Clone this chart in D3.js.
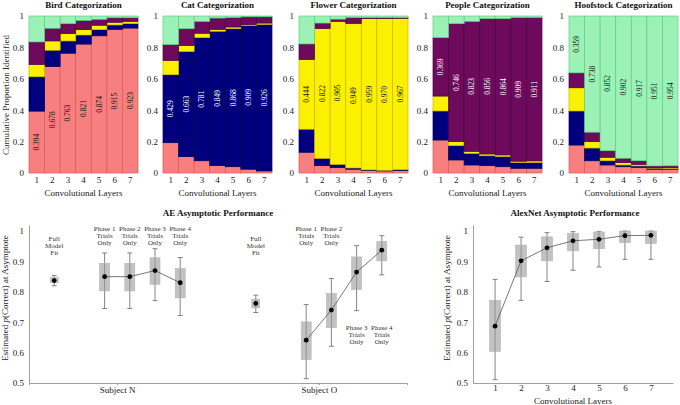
<!DOCTYPE html>
<html><head><meta charset="utf-8">
<script src="https://cdn.jsdelivr.net/npm/d3@7"></script>
<style>
body{margin:0;background:#fff;}
svg{font-family:"Liberation Serif","DejaVu Serif",serif;}
</style></head>
<body><svg id="c" width="680" height="405"></svg>
<script>
// ---------- DATA ----------
const layers = [1, 2, 3, 4, 5, 6, 7];
const categories = ["Bird", "Cat", "Flower", "People", "Hoofstock"];
const panelTitles = ["Bird Categorization", "Cat Categorization", "Flower Categorization", "People Categorization", "Hoofstock Categorization"];
// proportions per layer: [bird, cat, flower, people, hoofstock]
const birdProps = [
  [0.394, 0.219, 0.078, 0.144, 0.165],
  [0.678, 0.104, 0.059, 0.081, 0.078],
  [0.763, 0.078, 0.047, 0.063, 0.049],
  [0.821, 0.058, 0.034, 0.059, 0.028],
  [0.874, 0.039, 0.028, 0.038, 0.021],
  [0.915, 0.028, 0.017, 0.029, 0.011],
  [0.923, 0.028, 0.015, 0.023, 0.011]];
const catProps = [
  [0.193, 0.433, 0.091, 0.101, 0.182],
  [0.104, 0.670, 0.038, 0.107, 0.081],
  [0.078, 0.784, 0.028, 0.076, 0.034],
  [0.047, 0.856, 0.012, 0.072, 0.013],
  [0.040, 0.879, 0.011, 0.060, 0.010],
  [0.024, 0.916, 0.005, 0.050, 0.005],
  [0.013, 0.933, 0.009, 0.040, 0.005]];
const flowerProps = [
  [0.132, 0.147, 0.444, 0.099, 0.178],
  [0.047, 0.046, 0.827, 0.035, 0.045],
  [0.034, 0.021, 0.911, 0.014, 0.020],
  [0.024, 0.008, 0.921, 0.037, 0.010],
  [0.015, 0.005, 0.963, 0.007, 0.010],
  [0.013, 0.004, 0.966, 0.007, 0.010],
  [0.015, 0.006, 0.964, 0.005, 0.010]];
const peopleProps = [
  [0.210, 0.185, 0.095, 0.372, 0.138],
  [0.083, 0.091, 0.026, 0.751, 0.049],
  [0.051, 0.074, 0.013, 0.828, 0.034],
  [0.047, 0.063, 0.011, 0.862, 0.017],
  [0.040, 0.064, 0.011, 0.868, 0.017],
  [0.030, 0.036, 0.009, 0.915, 0.010],
  [0.030, 0.036, 0.011, 0.913, 0.010]];
const hoofProps = [
  [0.178, 0.217, 0.148, 0.095, 0.362],
  [0.078, 0.081, 0.041, 0.060, 0.740],
  [0.051, 0.027, 0.022, 0.042, 0.858],
  [0.040, 0.011, 0.015, 0.028, 0.906],
  [0.036, 0.009, 0.010, 0.023, 0.922],
  [0.024, 0.004, 0.004, 0.013, 0.955],
  [0.024, 0.004, 0.006, 0.012, 0.954]];
const birdAcc   = [0.394, 0.678, 0.763, 0.821, 0.874, 0.915, 0.923];
const catAcc    = [0.429, 0.663, 0.781, 0.849, 0.868, 0.909, 0.926];
const flowerAcc = [0.444, 0.822, 0.905, 0.949, 0.959, 0.970, 0.967];
const peopleAcc = [0.369, 0.746, 0.823, 0.856, 0.864, 0.909, 0.911];
const hoofAcc   = [0.359, 0.738, 0.852, 0.902, 0.917, 0.951, 0.954];
const topTicks = [0, 0.2, 0.4, 0.6, 0.8, 1];

// AE asymptotic performance
const subjects = ["Subject N", "Subject O"];
const conditions = ["Full Model Fit", "Phase 1 Trials Only", "Phase 2 Trials Only", "Phase 3 Trials Only", "Phase 4 Trials Only"];
const aeMeanN = [0.837, 0.850, 0.850, 0.870, 0.830];
const aeBoxLoN = [0.830, 0.803, 0.803, 0.825, 0.780];
const aeBoxHiN = [0.847, 0.894, 0.894, 0.912, 0.877];
const aeWhLoN = [0.820, 0.745, 0.745, 0.771, 0.722];
const aeWhHiN = [0.854, 0.928, 0.928, 0.942, 0.913];
const aeMeanO = [0.762, 0.641, 0.740, 0.865, 0.937];
const aeBoxLoO = [0.747, 0.577, 0.682, 0.808, 0.902];
const aeBoxHiO = [0.776, 0.701, 0.795, 0.915, 0.966];
const aeWhLoO = [0.732, 0.514, 0.621, 0.738, 0.856];
const aeWhHiO = [0.789, 0.758, 0.844, 0.952, 0.985];

// AlexNet asymptotic performance
const alexMean = [0.687, 0.902, 0.945, 0.968, 0.973, 0.985, 0.986];
const alexBoxLo = [0.604, 0.849, 0.902, 0.935, 0.942, 0.962, 0.959];
const alexBoxHi = [0.772, 0.954, 0.981, 0.992, 0.997, 1.000, 1.000];
const alexWhLo = [0.511, 0.772, 0.834, 0.871, 0.882, 0.907, 0.907];
const alexWhHi = [0.841, 0.980, 0.995, 0.998, 0.999, 1.000, 1.000];
const bottomTicks = [0.5, 0.6, 0.7, 0.8, 0.9, 1];

// ---------- DRAW ----------
const svg = d3.select("#c");
const fills = ["#f77f7f", "#00007f", "#fbf000", "#6e0a5c", "#9cf2b6"];
const strokes = ["#d85a5a", "#000050", "#c8b800", "#4a003c", "#5ccf80"];
const labelColors = ["#111", "#fff", "#111", "#fff", "#111"];
const panels = [birdProps, catProps, flowerProps, peopleProps, hoofProps];
const accs = [birdAcc, catAcc, flowerAcc, peopleAcc, hoofAcc];
const panelLeft = [29, 163, 299, 433, 569];
const panelW = 109;
const yTop = d3.scaleLinear().domain([0, 1]).range([173, 16]);
const fmtTop = d => d === 0 ? "0" : d === 1 ? "1" : d.toFixed(1);

panels.forEach((props, p) => {
  const g = svg.append("g");
  const x = d3.scaleBand().domain(layers).range([panelLeft[p], panelLeft[p] + panelW]).padding(0);
  const rows = props.map((r, i) => { const o = {layer: layers[i]}; categories.forEach((c, k) => o[c] = r[k]); return o; });
  const stack = d3.stack().keys(categories)(rows);
  stack.forEach((s, k) => {
    g.append("g").selectAll("rect").data(s).join("rect")
      .attr("x", d => x(d.data.layer))
      .attr("width", x.bandwidth())
      .attr("y", d => yTop(d[1]))
      .attr("height", d => Math.max(0, yTop(d[0]) - yTop(d[1])))
      .attr("fill", fills[k]).attr("stroke", strokes[k]).attr("stroke-width", 0.7);
  });
  // accuracy labels in own-category segment
  const seg = stack[p];
  g.append("g").selectAll("text").data(seg).join("text")
    .attr("transform", (d, i) => `translate(${x(d.data.layer) + x.bandwidth() / 2 + 2.5},${yTop((d[0] + d[1]) / 2)}) rotate(-90)`)
    .attr("text-anchor", "middle").attr("font-size", 7.5).attr("fill", labelColors[p])
    .text((d, i) => accs[p][i].toFixed(3));
  // axes
  const ya = d3.axisLeft(yTop).tickValues(topTicks).tickFormat(fmtTop).tickSize(0).tickPadding(5);
  g.append("g").attr("transform", `translate(${panelLeft[p]},0)`).call(ya)
    .call(a => a.select(".domain").remove())
    .selectAll("text").attr("font-size", 9).attr("font-family", "Liberation Serif").attr("fill", "#222");
  const xa = d3.axisBottom(x).tickSize(0).tickPadding(4);
  g.append("g").attr("transform", "translate(0,173)").call(xa)
    .call(a => a.select(".domain").remove())
    .selectAll("text").attr("font-size", 9).attr("font-family", "Liberation Serif").attr("fill", "#222");
  g.append("text").attr("x", panelLeft[p] + panelW / 2).attr("y", 196).attr("text-anchor", "middle")
    .attr("font-size", 9).attr("fill", "#222").text("Convolutional Layers");
  g.append("text").attr("x", panelLeft[p] + panelW / 2).attr("y", 8).attr("text-anchor", "middle")
    .attr("font-size", 9).attr("font-weight", "bold").attr("fill", "#111").text(panelTitles[p]);
});
svg.append("text").attr("transform", "translate(9,95) rotate(-90)").attr("text-anchor", "middle")
  .attr("font-size", 9).attr("fill", "#222").text("Cumulative Proportion Identified");

// ---------- bottom charts ----------
const yB = d3.scaleLinear().domain([0.5, 1.02]).range([383, 225]);
const fmtB = d => d === 1 ? "1" : d.toFixed(1);

function yLabel(xpos, cy) {
  const t = svg.append("text").attr("transform", `translate(${xpos},${cy}) rotate(-90)`)
    .attr("text-anchor", "middle").attr("font-size", 9).attr("fill", "#222");
  t.append("tspan").text("Estimated ");
  t.append("tspan").attr("font-style", "italic").text("p");
  t.append("tspan").text("(Correct) at Asymptote");
}
function leftAxis(x0) {
  const g = svg.append("g").attr("transform", `translate(${x0},0)`)
    .call(d3.axisLeft(yB).tickValues(bottomTicks).tickFormat(fmtB).tickSize(0).tickPadding(5));
  g.select(".domain").attr("stroke", "#888").attr("stroke-width", 0.8);
  g.selectAll("text").attr("font-size", 9).attr("font-family", "Liberation Serif").attr("fill", "#222");
}
function drawBoxes(g, xs, mean, bLo, bHi, wLo, wHi, bw) {
  xs.forEach((xv, i) => {
    g.append("line").attr("x1", xv).attr("x2", xv).attr("y1", yB(wLo[i])).attr("y2", yB(wHi[i]))
      .attr("stroke", "#666").attr("stroke-width", 0.8);
    [wLo[i], wHi[i]].forEach(v => g.append("line").attr("x1", xv - 2.5).attr("x2", xv + 2.5)
      .attr("y1", yB(v)).attr("y2", yB(v)).attr("stroke", "#666").attr("stroke-width", 0.8));
    g.append("rect").attr("x", xv - bw[i] / 2).attr("width", bw[i])
      .attr("y", yB(bHi[i])).attr("height", yB(bLo[i]) - yB(bHi[i]))
      .attr("fill", "#9a9a9a").attr("fill-opacity", 0.6).attr("stroke", "#b5b5b5").attr("stroke-width", 0.6);
  });
}

// AE chart
const xAE = d3.scaleLinear().domain([-3.5, 11.5]).range([29, 407]);
const subjCenter = [0, 8];
const condOffset = [-2.5, -0.5, 0.5, 1.5, 2.5];
const aeG = svg.append("g");
leftAxis(29);
const xaAE = d3.axisBottom(xAE).tickValues(subjCenter).tickFormat((d, i) => subjects[i]).tickSize(2).tickPadding(2);
const gxa = svg.append("g").attr("transform", "translate(0,383)").call(xaAE);
gxa.select(".domain").attr("stroke", "#888").attr("stroke-width", 0.8);
gxa.selectAll(".tick line").attr("stroke", "#888");
gxa.selectAll("text").attr("font-size", 9).attr("font-family", "Liberation Serif").attr("fill", "#222");

const aeSets = [
  [aeMeanN, aeBoxLoN, aeBoxHiN, aeWhLoN, aeWhHiN],
  [aeMeanO, aeBoxLoO, aeBoxHiO, aeWhLoO, aeWhHiO]];
aeSets.forEach((s, si) => {
  const xs = condOffset.map(o => xAE(subjCenter[si] + o));
  drawBoxes(aeG, xs, s[0], s[1], s[2], s[3], s[4], [8, 10, 10, 10, 10]);
  const pts = xs.slice(1).map((xv, i) => [xv, yB(s[0][i + 1])]);
  aeG.append("path").attr("d", d3.line()(pts)).attr("fill", "none").attr("stroke", "#555").attr("stroke-width", 0.8);
  aeG.selectAll(null).data(xs).join("circle").attr("cx", d => d).attr("cy", (d, i) => yB(s[0][i]))
    .attr("r", 2.4).attr("fill", "#000");
  // condition annotations
  conditions.forEach((c, ci) => {
    const words = ci === 0 ? ["Full", "Model", "Fit"] : [c.slice(0, 7), "Trials", "Only"];
    let y0 = ci === 0 ? 241 : 231;
    if (si === 1 && ci >= 3) y0 = 330;
    words.forEach((w, wi) => aeG.append("text").attr("x", xs[ci]).attr("y", y0 + wi * 7)
      .attr("text-anchor", "middle").attr("font-size", 7).attr("fill", "#333").text(w));
  });
});
svg.append("text").attr("x", 218).attr("y", 216).attr("text-anchor", "middle").attr("font-size", 9)
  .attr("font-weight", "bold").attr("fill", "#111").text("AE Asymptotic Performance");
yLabel(8, 298);

// AlexNet chart
const xAl = d3.scaleLinear().domain([0.15, 7.85]).range([473, 673]);
leftAxis(473);
const xaAl = d3.axisBottom(xAl).tickValues(layers).tickFormat(d3.format("d")).tickSize(0).tickPadding(2);
const gxb = svg.append("g").attr("transform", "translate(0,383)").call(xaAl);
gxb.select(".domain").attr("stroke", "#888").attr("stroke-width", 0.8);
gxb.selectAll("text").attr("font-size", 9).attr("font-family", "Liberation Serif").attr("fill", "#222");
const alG = svg.append("g");
const axs = layers.map(l => xAl(l));
drawBoxes(alG, axs, alexMean, alexBoxLo, alexBoxHi, alexWhLo, alexWhHi, layers.map(() => 11));
alG.append("path").attr("d", d3.line()(axs.map((xv, i) => [xv, yB(alexMean[i])])))
  .attr("fill", "none").attr("stroke", "#555").attr("stroke-width", 0.8);
alG.selectAll(null).data(axs).join("circle").attr("cx", d => d).attr("cy", (d, i) => yB(alexMean[i]))
  .attr("r", 2.4).attr("fill", "#000");
svg.append("text").attr("x", 575).attr("y", 216).attr("text-anchor", "middle").attr("font-size", 9)
  .attr("font-weight", "bold").attr("fill", "#111").text("AlexNet Asymptotic Performance");
svg.append("text").attr("x", 573).attr("y", 404).attr("text-anchor", "middle").attr("font-size", 9)
  .attr("fill", "#222").text("Convolutional Layers");
yLabel(450, 298);
</script></body></html>
